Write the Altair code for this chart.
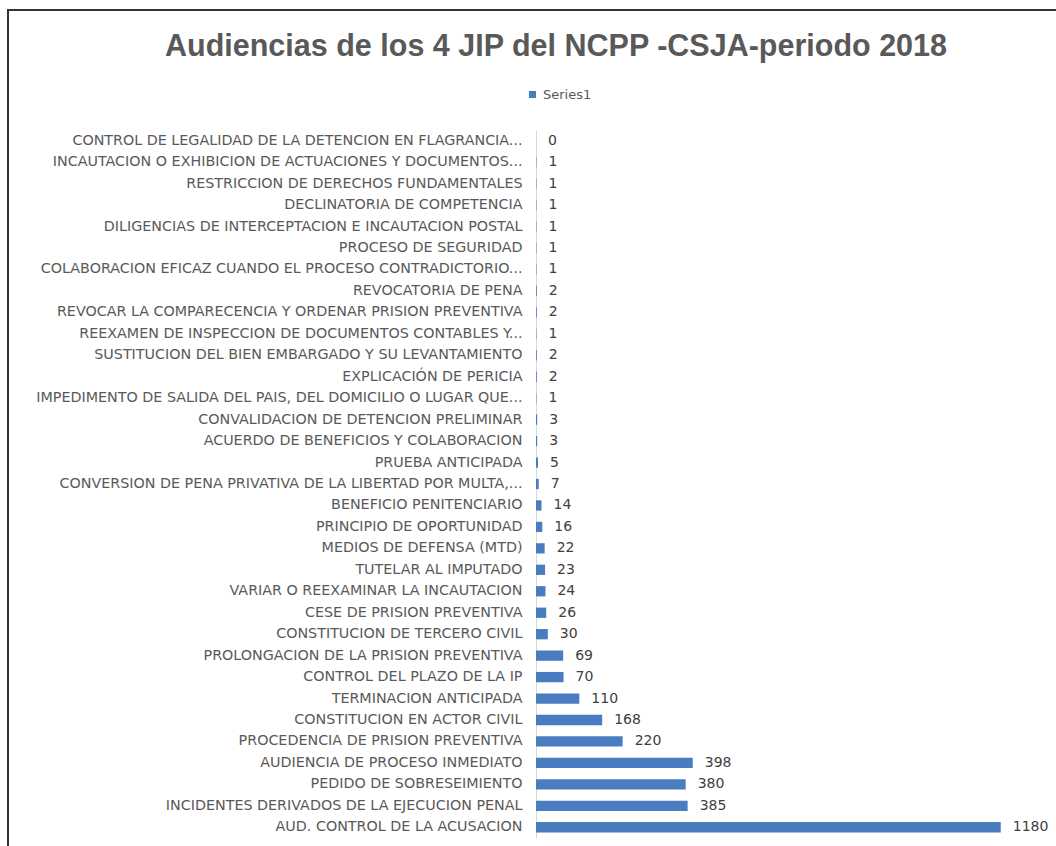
import altair as alt
import pandas as pd

categories = [
    "CONTROL DE LEGALIDAD DE LA DETENCION EN FLAGRANCIA...",
    "INCAUTACION O EXHIBICION DE ACTUACIONES Y DOCUMENTOS...",
    "RESTRICCION DE DERECHOS FUNDAMENTALES",
    "DECLINATORIA DE COMPETENCIA",
    "DILIGENCIAS DE INTERCEPTACION E INCAUTACION POSTAL",
    "PROCESO DE SEGURIDAD",
    "COLABORACION EFICAZ CUANDO EL PROCESO CONTRADICTORIO...",
    "REVOCATORIA DE PENA",
    "REVOCAR LA COMPARECENCIA Y ORDENAR PRISION PREVENTIVA",
    "REEXAMEN DE INSPECCION DE DOCUMENTOS CONTABLES Y...",
    "SUSTITUCION DEL BIEN EMBARGADO Y SU LEVANTAMIENTO",
    "EXPLICACIÓN DE PERICIA",
    "IMPEDIMENTO DE SALIDA DEL PAIS, DEL DOMICILIO O LUGAR QUE...",
    "CONVALIDACION DE DETENCION PRELIMINAR",
    "ACUERDO DE BENEFICIOS Y COLABORACION",
    "PRUEBA ANTICIPADA",
    "CONVERSION DE PENA PRIVATIVA DE LA LIBERTAD POR MULTA,...",
    "BENEFICIO PENITENCIARIO",
    "PRINCIPIO DE OPORTUNIDAD",
    "MEDIOS DE DEFENSA (MTD)",
    "TUTELAR AL IMPUTADO",
    "VARIAR O REEXAMINAR LA INCAUTACION",
    "CESE  DE PRISION PREVENTIVA",
    "CONSTITUCION DE TERCERO CIVIL",
    "PROLONGACION DE LA PRISION PREVENTIVA",
    "CONTROL DEL PLAZO DE LA IP",
    "TERMINACION ANTICIPADA",
    "CONSTITUCION EN ACTOR CIVIL",
    "PROCEDENCIA DE PRISION PREVENTIVA",
    "AUDIENCIA DE PROCESO INMEDIATO",
    "PEDIDO DE SOBRESEIMIENTO",
    "INCIDENTES DERIVADOS DE LA EJECUCION PENAL",
    "AUD. CONTROL DE LA ACUSACION",
]
values = [0, 1, 1, 1, 1, 1, 1, 2, 2, 1, 2, 2, 1, 3, 3, 5, 7, 14, 16, 22, 23, 24,
          26, 30, 69, 70, 110, 168, 220, 398, 380, 385, 1180]
series = ["Series1"] * len(categories)

df = pd.DataFrame({"cat": categories, "val": values, "series": series})

FONT = "DejaVu Sans"
TFONT = "Liberation Sans"
GRAY = "#595959"
BLUE = "#4a7dbf"

y_enc = alt.Y("cat:N", sort=None, title=None,
              scale=alt.Scale(paddingInner=0.52, paddingOuter=0.26),
              axis=alt.Axis(ticks=False, domainColor="#d9d9d9", domainWidth=1,
                            labelFont=FONT, labelFontSize=14.3, labelColor=GRAY,
                            labelPadding=14, labelLimit=600, grid=False))
x_enc = alt.X("val:Q", title=None, axis=None,
              scale=alt.Scale(domain=[0, 1300], nice=False))

bars = alt.Chart(df).mark_bar(cornerRadius=0).encode(
    y=y_enc, x=x_enc,
    color=alt.Color("series:N", title=None,
                    scale=alt.Scale(range=[BLUE]),
                    legend=alt.Legend(orient="none", legendX=-10, legendY=-42,
                                      symbolType="square", symbolSize=50,
                                      symbolStrokeWidth=0,
                                      labelFont=FONT, labelFontSize=13,
                                      labelColor=GRAY)),
)

labels = alt.Chart(df).mark_text(align="left", baseline="middle", dx=12,
                                 font=FONT, fontSize=14, color="#404040").encode(
    y=alt.Y("cat:N", sort=None), x=alt.X("val:Q"), text=alt.Text("val:Q"))

frame = alt.Chart(pd.DataFrame({"a": [0]})).mark_rect(
    fill=None, stroke="#333333", strokeWidth=2).encode(
    x=alt.value(-528), x2=alt.value(700), y=alt.value(-120), y2=alt.value(900))

chart = alt.layer(frame, bars, labels).properties(
    width=512, height=708,
    title=alt.Title("Audiencias de los 4 JIP del NCPP -CSJA-periodo 2018",
                    font=TFONT, fontSize=30.5, fontWeight="bold", color=GRAY,
                    anchor="middle", frame="group", dx=-236, offset=-53),
    autosize=alt.AutoSizeParams(type="none"),
    padding={"left": 536, "top": 130, "right": 8, "bottom": 8},
).configure_view(stroke=None)

chart.save("out.html", embed_options={"renderer": "svg", "actions": False})
